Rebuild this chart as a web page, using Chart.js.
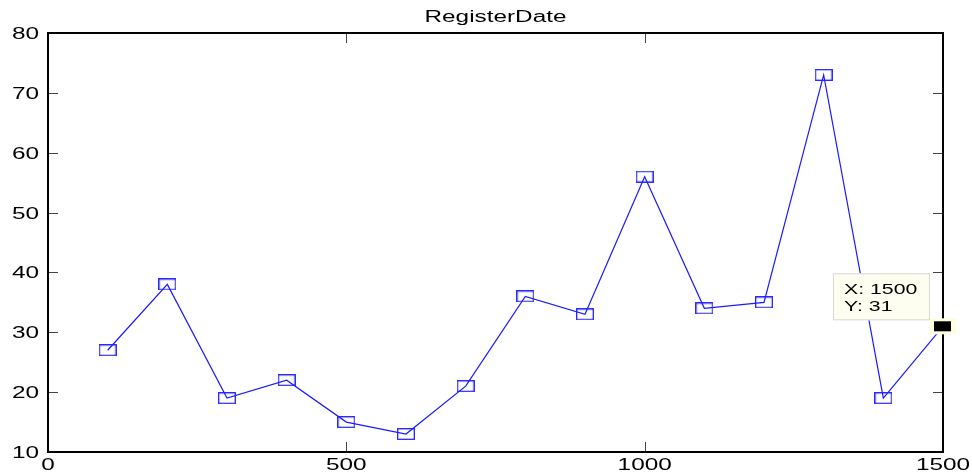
<!DOCTYPE html>
<html lang="en">
<head>
    <meta charset="UTF-8">
    <title>RegisterDate</title>
    <script src="https://cdn.jsdelivr.net/npm/chart.js"></script>
    <style>
        body { margin: 0; background: #ffffff; }
        #wrap { width: 972px; height: 474px; position: relative; }
    </style>
</head>
<body>
    <div id="wrap"><canvas id="myChart"></canvas></div>
    <script>
        // data
        const xValues = [100, 200, 300, 400, 500, 600, 700, 800, 900, 1000, 1100, 1200, 1300, 1400, 1500];
        const yValues = [27, 38, 19, 22, 15, 13, 21, 36, 33, 56, 34, 35, 73, 19, 31];
        const xTicks = [0, 500, 1000, 1500];
        const yTicks = [10, 20, 30, 40, 50, 60, 70, 80];
        const tipPoint = { x: 1500, y: 31 };

        const FONT = 'Arial, "Liberation Sans", sans-serif';
        const STRETCH = 1.52; // the reference text is wide

        // open rectangle marker like matlab 's'
        const marker = document.createElement('canvas');
        marker.width = 18; marker.height = 12;
        (function () {
            const c = marker.getContext('2d');
            c.strokeStyle = '#2020ff';
            c.lineWidth = 1.3;
            c.strokeRect(0.7, 0.7, 16.6, 10.6);
        })();

        // draws horizontally stretched text
        function wideText(c, txt, x, y, align, size) {
            c.save();
            c.font = size + 'px ' + FONT;
            const w = c.measureText(txt).width * STRETCH;
            let left = x;
            if (align === 'center') left = x - w / 2;
            if (align === 'right') left = x - w;
            c.translate(left, y);
            c.scale(STRETCH, 1);
            c.textAlign = 'left';
            c.fillText(txt, 0, 0);
            c.restore();
        }

        const framePlugin = {
            id: 'frame',
            afterDraw(chart) {
                const c = chart.ctx;
                const a = chart.chartArea;
                const xs = chart.scales.x, ys = chart.scales.y;
                c.save();
                // inward ticks on all four sides
                c.strokeStyle = '#444';
                c.lineWidth = 1;
                c.beginPath();
                yTicks.forEach(v => {
                    const py = Math.round(ys.getPixelForValue(v)) + 0.5;
                    c.moveTo(a.left, py); c.lineTo(a.left + 10, py);
                    c.moveTo(a.right, py); c.lineTo(a.right - 10, py);
                });
                xTicks.forEach(v => {
                    const px = Math.round(xs.getPixelForValue(v)) + 0.5;
                    c.moveTo(px, a.bottom); c.lineTo(px, a.bottom - 10);
                    c.moveTo(px, a.top); c.lineTo(px, a.top + 10);
                });
                c.stroke();
                // box
                c.strokeStyle = '#000';
                c.lineWidth = 2;
                c.strokeRect(a.left, a.top, a.right - a.left, a.bottom - a.top);

                // tick labels
                c.fillStyle = '#000';
                c.textBaseline = 'alphabetic';
                yTicks.forEach(v => {
                    wideText(c, String(v), a.left - 9, ys.getPixelForValue(v) + 6, 'right', 16);
                });
                xTicks.forEach(v => {
                    wideText(c, String(v), xs.getPixelForValue(v), a.bottom + 18, 'center', 16);
                });
                // title
                wideText(c, 'RegisterDate', (a.left + a.right) / 2, 22, 'center', 16);

                // data tip
                const tx = xs.getPixelForValue(tipPoint.x);
                const ty = ys.getPixelForValue(tipPoint.y);
                c.fillStyle = '#ffffe0';
                c.fillRect(tx - 13, ty - 8, 26, 16);
                c.fillStyle = '#000';
                c.fillRect(tx - 9, ty - 5, 17, 10);
                const bx = tx - 110, by = ty - 53;
                c.fillStyle = '#fefef0';
                c.fillRect(bx, by, 97, 47);
                c.strokeStyle = '#d8d8d0';
                c.lineWidth = 1;
                c.strokeRect(bx + 0.5, by + 0.5, 96, 46);
                c.fillStyle = '#000';
                wideText(c, 'X: ' + tipPoint.x, bx + 11, by + 21, 'left', 14);
                wideText(c, 'Y: ' + tipPoint.y, bx + 11, by + 38, 'left', 14);
                c.restore();
            }
        };

        const ctx = document.getElementById('myChart').getContext('2d');
        const myChart = new Chart(ctx, {
            type: 'line',
            data: {
                datasets: [{
                    data: xValues.map((x, i) => ({ x: x, y: yValues[i] })),
                    borderColor: '#1a1aff',
                    borderWidth: 1.2,
                    tension: 0,
                    pointStyle: marker,
                    pointRadius: 6,
                    fill: false
                }]
            },
            options: {
                responsive: true,
                maintainAspectRatio: false,
                animation: false,
                layout: { padding: { top: 33, right: 29, left: 0, bottom: 0 } },
                plugins: { legend: { display: false }, tooltip: { enabled: false } },
                scales: {
                    x: {
                        type: 'linear',
                        min: 0, max: 1500,
                        afterBuildTicks: s => { s.ticks = xTicks.map(v => ({ value: v })); },
                        afterFit: s => { s.height = 22; },
                        grid: { display: false, drawTicks: false },
                        border: { display: false },
                        ticks: { display: false }
                    },
                    y: {
                        min: 10, max: 80,
                        afterBuildTicks: s => { s.ticks = yTicks.map(v => ({ value: v })); },
                        afterFit: s => { s.width = 48; },
                        grid: { display: false, drawTicks: false },
                        border: { display: false },
                        ticks: { display: false }
                    }
                }
            },
            plugins: [framePlugin]
        });
    </script>
</body>
</html>
